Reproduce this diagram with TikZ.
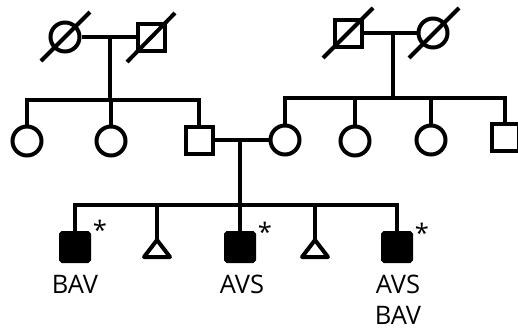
\documentclass[tikz,border=0pt]{standalone}
\usepackage{fontspec}
\setmainfont{Open Sans}
\begin{document}
\begin{tikzpicture}[x=1pt,y=-1pt,line width=4pt,
  male/.style={draw,rectangle,minimum size=27pt,inner sep=0pt},
  female/.style={draw,circle,minimum size=29pt,inner sep=0pt},
  affected/.style={draw,rectangle,fill=black,rounded corners=1.5pt,minimum size=28pt,inner sep=0pt},
  lbl/.style={font=\fontsize{25.5}{31}\selectfont,inner sep=0pt,anchor=base,align=center},
  deceased/.style={line cap=butt},
  tri/.style={line join=round}]
\clip (0,0) rectangle (518,330);
% generation I, left couple
\node[female] (F1) at (65,37) {};
\node[male] (M1) at (151,37) {};
\draw[deceased] ([shift={(-24,24)}]F1.center) -- ([shift={(25,-25)}]F1.center);
\draw[deceased] ([shift={(-24,25)}]M1.center) -- ([shift={(24,-24)}]M1.center);
\draw (F1) -- (M1);
\coordinate (d1) at (110,37);
\coordinate (s1) at (110,100);
% generation I, right couple
\node[male] (M3) at (348,33) {};
\node[female] (F3) at (433,33) {};
\draw[deceased] ([shift={(-25,25)}]M3.center) -- ([shift={(25,-25)}]M3.center);
\draw[deceased] ([shift={(-24,25)}]F3.center) -- ([shift={(26,-25)}]F3.center);
\draw (M3) -- (F3);
\coordinate (d2) at (393,33);
\coordinate (s2) at (393,98);
% generation II
\node[female] (C1) at (27,141) {};
\node[female] (C2) at (111,141) {};
\node[male] (M2) at (199,140) {};
\node[female] (F4) at (285,140) {};
\node[female] (F5) at (355,141) {};
\node[female] (F6) at (431,140) {};
\node[male] (M4) at (505,137) {};
\draw (d1) -- (s1);
\draw (C1.north) |- (s1) -| (M2.north);
\draw (C2.north) -- (C2.north |- s1);
\draw (d2) -- (s2);
\draw (F4.north) |- (s2) -| (M4.north);
\draw (F5.north) -- (F5.north |- s2);
\draw (F6.north) -- (F6.north |- s2);
\draw (M2) -- (F4);
\coordinate (d3) at (240,141);
\coordinate (s3) at (240,205);
% generation III
\node[affected] (S1) at (75,247) {};
\node[affected] (S2) at (240,247) {};
\node[affected] (S3) at (397,247) {};
\coordinate (T1) at (157,240);
\coordinate (T2) at (315,240);
\draw[tri] (T1) -- ++(-13,17) -- ++(26,0) -- cycle;
\draw[tri] (T2) -- ++(-13,17) -- ++(26,0) -- cycle;
\draw (d3) -- (s3);
\draw (S1.north) |- (s3) -| (S3.north);
\draw (S2.north) -- (S2.north |- s3);
\draw (T1) -- (T1 |- s3);
\draw (T2) -- (T2 |- s3);
% markers and labels
\node[lbl] (a1) at (100,239) {*};
\node[lbl] (a2) at (265,241) {*};
\node[lbl] (a3) at (422,242) {*};
\node[lbl] (L1) at (75,293) {BAV};
\node[lbl] (L2) at (242,293) {AVS};
\node[lbl] (L3) at (398,324) {AVS\\BAV};
\end{tikzpicture}
\end{document}
